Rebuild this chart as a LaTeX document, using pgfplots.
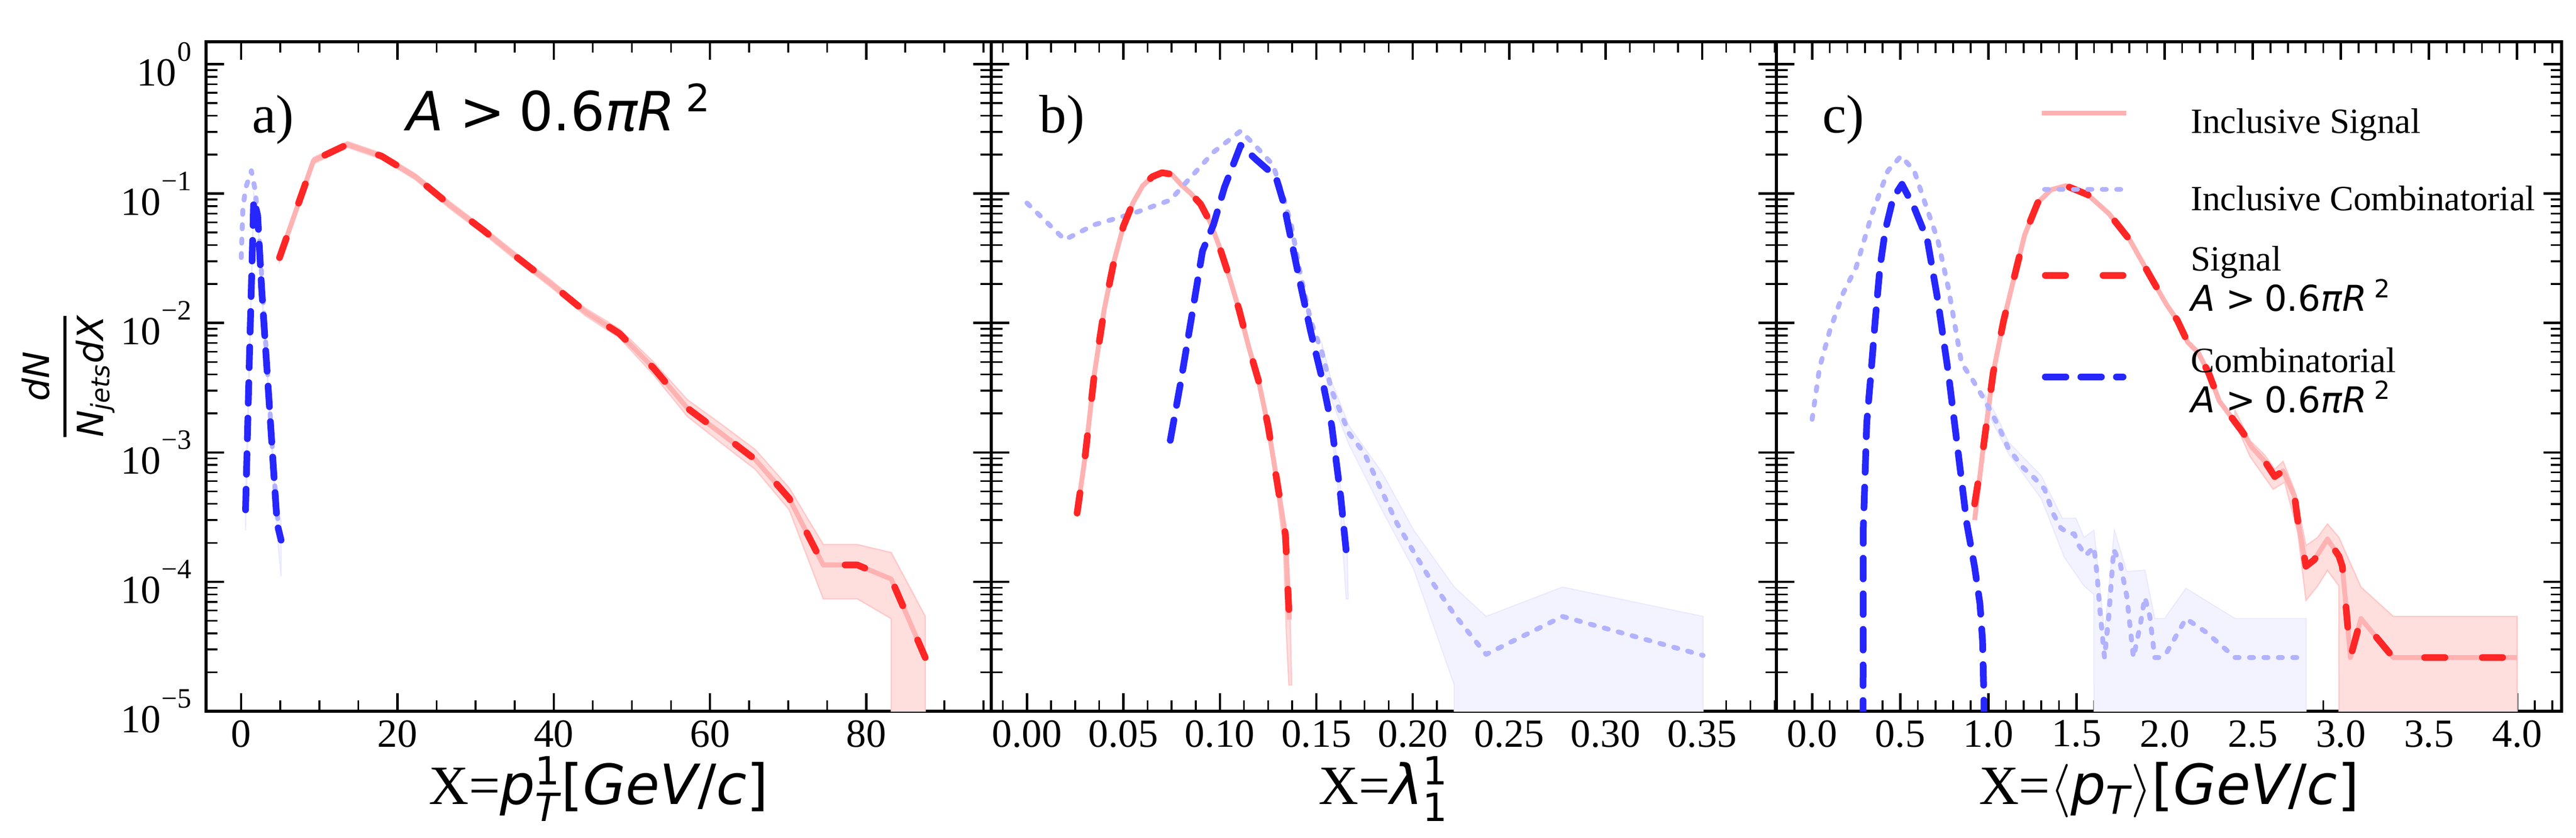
\documentclass[border=0pt]{standalone}
\usepackage{fontspec}
\setmainfont{Liberation Serif}
\newfontfamily\dv{DejaVu Sans}
\usepackage{amsmath}
\usepackage{pgfplots}
\pgfplotsset{compat=1.18}

\definecolor{pinkl}{RGB}{255,178,178}
\definecolor{lblue}{RGB}{178,178,255}
\definecolor{redd}{RGB}{255,38,38}
\definecolor{blued}{RGB}{38,38,255}
\definecolor{bandred}{RGB}{255,222,222}
\definecolor{bandredline}{RGB}{255,200,200}
\definecolor{bandblue}{RGB}{243,243,255}
\definecolor{bandblueline}{RGB}{232,232,255}

\newcommand\mi[1]{{\dv\itshape #1}}
\newcommand\mr[1]{{\dv #1}}
\newcommand\tk{\fontsize{15.5}{18}\selectfont}
\newcommand\legfont{\fontsize{13.8}{16}\selectfont}
\newcommand\pw[1]{10\kern0.3pt\raisebox{0.62em}{\fontsize{10.9}{12}\selectfont #1}}
\newcommand\Acut{\mi{A}\kern0.3em\mr{>}\kern0.25em\mr{0.6}\mi{πR}\kern0.2em\textsuperscript{\mr{2}}}

\pgfplotsset{
  every axis/.append style={
    scale only axis, width=304.8pt, height=259.8pt,
    ymode=log, ymin=1e-5, ymax=1.49,
    ytick={1e-5,1e-4,1e-3,1e-2,1e-1,1},
    minor ytick={2e-5,3e-5,4e-5,5e-5,6e-5,7e-5,8e-5,9e-5,2e-4,3e-4,4e-4,5e-4,6e-4,7e-4,8e-4,9e-4,2e-3,3e-3,4e-3,5e-3,6e-3,7e-3,8e-3,9e-3,2e-2,3e-2,4e-2,5e-2,6e-2,7e-2,8e-2,9e-2,0.2,0.3,0.4,0.5,0.6,0.7,0.8,0.9},
    xtick pos=both, ytick pos=both,
    tick align=inside,
    major tick length=7pt, minor tick length=4.3pt,
    every major tick/.append style={line width=0.9pt, black},
    every minor tick/.append style={line width=0.7pt, black},
    axis line style={line width=1.1pt},
    tick label style={font=\tk},
    yticklabel style={xshift=-2.2pt},
    clip mode=individual,
  },
  legA/.style={legend image code/.code={\draw[##1] (0pt,7.8pt) -- (32.8pt,7.8pt);}},
  legB/.style={legend image code/.code={\draw[##1] (1pt,8.2pt) -- (31.8pt,8.2pt);}},
  legC/.style={legend image code/.code={\draw[##1] (1.3pt,-1.8pt) -- (31.5pt,-1.8pt);}},
}
\tikzset{
  pinkst/.style={draw=pinkl, line width=1.9pt, line join=round},
  lbluest/.style={draw=lblue, line width=1.9pt, line cap=round, line join=round, dash pattern=on 1.6pt off 4pt},
  redst/.style={draw=redd, line width=2.6pt, line cap=round, line join=round, dash pattern=on 7.9pt off 14.5pt},
  bluest/.style={draw=blued, line width=2.6pt, line cap=round, line join=round, dash pattern=on 8pt off 5.8pt},
  rband/.style={fill=bandred, draw=bandredline, line width=0.5pt},
  bband/.style={fill=bandblue, draw=bandblueline, line width=0.4pt},
}

\begin{document}
\begin{tikzpicture}

%================ panel a ================
\begin{axis}[at={(80pt,49pt)}, anchor=south west,
  xmin=-4.5, xmax=96,
  xtick={0,20,40,60,80}, xticklabels={0,20,40,60,80},
  minor xtick={5,10,15,25,30,35,45,50,55,65,70,75,85,90,95},
  yticklabels={\pw{−5},\pw{−4},\pw{−3},\pw{−2},\pw{−1},\pw{0}},
]
\addplot[rband, forget plot] coordinates {
 (4.9,0.034) (9.25,0.19) (13.6,0.252) (17.95,0.205) (22.3,0.142) (26.65,0.087) (31,0.055)
 (35.35,0.034) (39.7,0.0213) (44.05,0.013) (48.4,0.0090) (52.75,0.0050) (57.1,0.00255)
 (61.45,0.00165) (65.8,0.00105) (70.15,0.00053) (74.5,0.000194) (78.85,0.000194)
 (83.2,0.000168) (87.55,0.000054)
 (87.55,1e-7) (83.21,1e-7) (83.2,0.000052) (78.85,0.000074) (74.5,0.000074) (70.15,0.00036)
 (65.8,0.00074) (61.45,0.00118) (57.1,0.0019) (52.75,0.0040) (48.4,0.0077) (44.05,0.0114)
 (39.7,0.0188) (35.35,0.030) (31,0.049) (26.65,0.077) (22.3,0.128) (17.95,0.185)
 (13.6,0.228) (9.25,0.17) (4.9,0.030)} -- cycle;
\addplot[bband, forget plot] coordinates {
 (0.55,0.00045) (1.05,0.0065) (1.6,0.1) (2.1,0.075) (2.6,0.021) (3.1,0.0073) (3.6,0.0026)
 (4.1,0.0009) (4.6,0.00033) (5.1,0.0003)
 (5.1,0.00011) (4.6,0.00023) (4.1,0.00068) (3.6,0.002) (3.1,0.006) (2.6,0.017) (2.1,0.062)
 (1.6,0.08) (1.05,0.0045) (0.55,0.00025)} -- cycle;
\addplot[pinkst] coordinates {
 (4.9,0.032) (9.25,0.18) (13.6,0.24) (17.95,0.195) (22.3,0.135) (26.65,0.082) (31,0.052)
 (35.35,0.032) (39.7,0.020) (44.05,0.0122) (48.4,0.0083) (52.75,0.0045) (57.1,0.0022)
 (61.45,0.0014) (65.8,0.00088) (70.15,0.00044) (74.5,0.000135) (78.85,0.000135)
 (83.2,0.000105) (87.55,0.000026)};
\addplot[lbluest] coordinates {
 (0,0.032) (0.2,0.075) (0.55,0.11) (1.3,0.15) (1.8,0.105) (2.3,0.047) (2.8,0.015)
 (3.3,0.0048) (3.8,0.0016) (4.3,0.00055) (4.8,0.00025) (5.1,0.00021)};
\addplot[redst] coordinates {
 (4.9,0.032) (9.25,0.18) (13.6,0.24) (17.95,0.195) (22.3,0.135) (26.65,0.082) (31,0.052)
 (35.35,0.032) (39.7,0.020) (44.05,0.0122) (48.4,0.0083) (52.75,0.0045) (57.1,0.0022)
 (61.45,0.0014) (65.8,0.00088) (70.15,0.00044) (74.5,0.000135) (78.85,0.000135)
 (83.2,0.000105) (87.55,0.000026)};
\addplot[bluest] coordinates {
 (0.55,0.00036) (1.05,0.0055) (1.6,0.09) (2.1,0.068) (2.6,0.019) (3.1,0.0066) (3.6,0.0023)
 (4.1,0.00079) (4.6,0.00028) (5.1,0.00021)};
\node[anchor=base west, font=\fontsize{21}{25}\selectfont] at (rel axis cs:0.047,0.864) {a)};
\node[anchor=base west, font=\fontsize{21}{25}\selectfont] at (rel axis cs:0.244,0.867) {\Acut};
\node[anchor=base, yshift=-36pt, font=\fontsize{21.5}{25}\selectfont] at (rel axis cs:0.5,0)
  {X=\mi{p}$^{\text{\mr{1}}}_{\text{\mi{T}}}$\mr{[}\mi{GeV}\mr{/}\mi{c}\mr{]}};
\node[xshift=-53.5pt, rotate=90, font=\fontsize{14}{16}\selectfont] at (rel axis cs:0,0.5)
  {$\displaystyle{\mbox{\mi{dN}}\above1.2pt\mbox{\mi{N}\textsubscript{\mi{jets}}\mi{dX}}}$};
\end{axis}

%================ panel b ================
\begin{axis}[at={(384.8pt,49pt)}, anchor=south west,
  xmin=-0.0185, xmax=0.3885,
  xtick={0,0.05,0.1,0.15,0.2,0.25,0.3,0.35},
  xticklabels={0.00,0.05,0.10,0.15,0.20,0.25,0.30,0.35},
  minor xtick={-0.0125,0.0125,0.025,0.0375,0.0625,0.075,0.0875,0.1125,0.125,0.1375,0.1625,0.175,0.1875,0.2125,0.225,0.2375,0.2625,0.275,0.2875,0.3125,0.325,0.3375,0.3625,0.375,0.3875},
  yticklabels={},
]
\addplot[bband, forget plot] coordinates {
 (0.153,0.0068) (0.158,0.0035) (0.167,0.0016) (0.184,0.0007) (0.2005,0.00025) (0.2215,0.000091)
 (0.238,0.000054) (0.2776,0.000091) (0.3505,0.000054)
 (0.3505,1e-7) (0.2216,1e-7) (0.2215,0.000016) (0.2005,0.000125) (0.184,0.00036)
 (0.167,0.00115) (0.158,0.0025) (0.153,0.005)} -- cycle;
\addplot[bband, forget plot] coordinates {
 (0.158,0.0018) (0.1626,0.00053) (0.166,0.00017) (0.1665,0.000074) (0.1655,0.000074)
 (0.1622,0.0004) (0.158,0.0014)} -- cycle;
\addplot[rband, forget plot] coordinates {
 (0.125,0.00175) (0.130,0.00062) (0.134,0.00027) (0.1362,0.00007) (0.1372,0.000016)
 (0.1358,0.000016) (0.1345,0.00004) (0.133,0.00019) (0.129,0.00056) (0.125,0.00145)} -- cycle;
\addplot[pinkst] coordinates {
 (0.026,0.00034) (0.030,0.00089) (0.035,0.0041) (0.040,0.0126) (0.045,0.0295) (0.050,0.056)
 (0.055,0.085) (0.060,0.115) (0.065,0.135) (0.070,0.145) (0.075,0.141) (0.080,0.117)
 (0.085,0.100) (0.090,0.083) (0.095,0.060) (0.100,0.038) (0.105,0.0224) (0.110,0.0126)
 (0.115,0.0065) (0.120,0.0036) (0.125,0.0016) (0.130,0.00055) (0.134,0.00023) (0.136,0.000051)};
\addplot[lbluest] coordinates {
 (0,0.0845) (0.0196,0.044) (0.035,0.0575) (0.0547,0.07) (0.0743,0.089) (0.0827,0.123)
 (0.0967,0.209) (0.1108,0.305) (0.119,0.229) (0.1276,0.166) (0.133,0.093) (0.137,0.0575)
 (0.1416,0.0245) (0.147,0.0105) (0.153,0.0059) (0.158,0.003) (0.167,0.0014) (0.175,0.00098)
 (0.184,0.0005) (0.192,0.00028) (0.2005,0.00017) (0.209,0.000105) (0.2215,0.000056)
 (0.238,0.0000275) (0.2776,0.000054) (0.3505,0.000027)};
\addplot[redst] coordinates {
 (0.026,0.00034) (0.030,0.00089) (0.035,0.0041) (0.040,0.0126) (0.045,0.0295) (0.050,0.056)
 (0.055,0.085) (0.060,0.115) (0.065,0.135) (0.070,0.145) (0.075,0.141) (0.080,0.117)
 (0.085,0.100) (0.090,0.083) (0.095,0.060) (0.100,0.038) (0.105,0.0224) (0.110,0.0126)
 (0.115,0.0065) (0.120,0.0036) (0.125,0.0016) (0.130,0.00055) (0.134,0.00023) (0.136,0.000051)};
\addplot[bluest] coordinates {
 (0.0743,0.00124) (0.080,0.0037) (0.0855,0.0115) (0.091,0.036) (0.0967,0.0575) (0.1024,0.112)
 (0.1108,0.236) (0.119,0.182) (0.129,0.135) (0.133,0.085) (0.137,0.0437) (0.1416,0.0204)
 (0.147,0.0087) (0.153,0.0037) (0.158,0.0016) (0.1626,0.00046) (0.166,0.000145)};
\node[anchor=base west, font=\fontsize{21}{25}\selectfont] at (rel axis cs:0.05,0.864) {b)};
\node[anchor=base, yshift=-36pt, font=\fontsize{21.5}{25}\selectfont] at (rel axis cs:0.5,0)
  {X=\mi{λ}$^{\text{\mr{1}}}_{\text{\mr{1}}}$};
\end{axis}

%================ panel c ================
\begin{axis}[at={(689.6pt,49pt)}, anchor=south west,
  xmin=-0.2025, xmax=4.2525,
  xtick={0,0.5,1,1.5,2,2.5,3,3.5,4},
  xticklabels={0.0,0.5,1.0,1.5,2.0,2.5,3.0,3.5,4.0},
  minor xtick={-0.1,0.1,0.2,0.3,0.4,0.6,0.7,0.8,0.9,1.1,1.2,1.3,1.4,1.6,1.7,1.8,1.9,2.1,2.2,2.3,2.4,2.6,2.7,2.8,2.9,3.1,3.2,3.3,3.4,3.6,3.7,3.8,3.9,4.1,4.2},
  yticklabels={},
  legend style={at={(rel axis cs:0.335,0.902)}, anchor=north west,
      draw=none, fill=none, inner sep=0pt, outer sep=0pt,
      row sep=0pt, column sep=24pt, font=\legfont,
      nodes={inner sep=0pt, text depth={}},
      cells={anchor=base west}},
]
\addplot[bband, forget plot] coordinates {
 (0.982,0.0028) (1.057,0.0018) (1.114,0.0012) (1.30,0.00066) (1.419,0.00031) (1.496,0.00031)
 (1.543,0.00022) (1.599,0.00025) (1.659,0.00004) (1.715,0.00025) (1.785,0.00012) (1.888,0.000123)
 (1.944,0.000052) (2.0,0.000052) (2.121,0.000089) (2.40,0.000052) (2.802,0.000052)
 (2.802,1e-7) (1.601,1e-7) (1.599,0.00008) (1.543,0.000093) (1.431,0.000155) (1.30,0.00044)
 (1.114,0.00098) (1.057,0.0014) (0.982,0.0022)} -- cycle;
\addplot[rband, forget plot] coordinates {
 (2.40,0.0021) (2.485,0.00123) (2.569,0.00095) (2.625,0.00074) (2.672,0.00085) (2.737,0.00051)
 (2.802,0.00019) (2.868,0.00022) (2.924,0.00028) (2.989,0.00022) (3.114,0.000091)
 (3.297,0.000054) (4.0,0.000054)
 (4.0,1e-7) (2.991,1e-7) (2.989,0.000093) (2.924,0.000123) (2.868,0.000093) (2.802,0.000072)
 (2.756,0.00024) (2.681,0.00059) (2.616,0.00052) (2.485,0.00093) (2.40,0.0017)} -- cycle;
\addplot[pinkst, legA] coordinates {
 (0.922,0.0003) (0.967,0.00098) (1.027,0.0041) (1.087,0.0105) (1.146,0.0224) (1.206,0.048)
 (1.28,0.085) (1.355,0.107) (1.44,0.115) (1.564,0.098) (1.684,0.07) (1.803,0.0437)
 (1.923,0.0224) (2.012,0.0138) (2.072,0.0105) (2.131,0.0071) (2.191,0.0059) (2.25,0.0041)
 (2.31,0.0025) (2.448,0.0014) (2.494,0.0011) (2.569,0.00085) (2.625,0.00065) (2.672,0.00072)
 (2.737,0.00046) (2.756,0.000295) (2.802,0.000132) (2.849,0.000148) (2.924,0.000214)
 (2.989,0.000158) (3.008,0.000132) (3.026,0.000072) (3.054,0.000026) (3.114,0.000052)
 (3.297,0.000026) (4.0,0.000026)};
\addlegendentry{\raisebox{0pt}[10pt][20pt]{Inclusive Signal}}
\addplot[lbluest, legB] coordinates {
 (0,0.0018) (0.042,0.0045) (0.1,0.0087) (0.176,0.017) (0.25,0.027) (0.34,0.07) (0.43,0.15)
 (0.5045,0.195) (0.579,0.15) (0.64,0.085) (0.713,0.0437) (0.773,0.0186) (0.848,0.0049)
 (0.907,0.0037) (0.982,0.0025) (1.057,0.0016) (1.114,0.00107) (1.198,0.00076) (1.263,0.00063)
 (1.319,0.00052) (1.366,0.00034) (1.412,0.00026) (1.459,0.000235) (1.487,0.000235)
 (1.515,0.00019) (1.552,0.00016) (1.599,0.000186) (1.617,0.000112) (1.636,0.000054)
 (1.659,0.000026) (1.683,0.000054) (1.711,0.000178) (1.748,0.000138) (1.785,0.000078)
 (1.823,0.000026) (1.86,0.000045) (1.888,0.000076) (1.916,0.000054) (1.944,0.000026)
 (1.972,0.000026) (2.009,0.000028) (2.121,0.000052) (2.233,0.000041) (2.40,0.000026)
 (2.802,0.000026)};
\addlegendentry{\raisebox{0pt}[10pt][13.4pt]{Inclusive Combinatorial}}
\addplot[redst, legC] coordinates {
 (0.922,0.0004) (0.967,0.00098) (1.027,0.0041) (1.087,0.0105) (1.146,0.0224) (1.206,0.048)
 (1.28,0.085) (1.355,0.107) (1.44,0.115) (1.564,0.098) (1.684,0.07) (1.803,0.0437)
 (1.923,0.0224) (2.012,0.0138) (2.072,0.0105) (2.131,0.0071) (2.191,0.0059) (2.25,0.0041)
 (2.31,0.0025) (2.448,0.0014) (2.494,0.0011) (2.569,0.00085) (2.625,0.00065) (2.672,0.00072)
 (2.737,0.00046) (2.756,0.000295) (2.802,0.000132) (2.849,0.000148) (2.924,0.000214)
 (2.989,0.000158) (3.008,0.000132) (3.026,0.000072) (3.054,0.000026) (3.114,0.000052)
 (3.297,0.000026) (4.0,0.000026)};
\addlegendentry{\raisebox{0pt}[10pt][29.4pt]{\vtop{\baselineskip=15.6pt\lineskiplimit=-50pt\hbox{Signal}\hbox{\Acut}}}}
\addplot[bluest, legC] coordinates {
 (0.2875,1e-7) (0.29,0.00025) (0.31,0.0017) (0.334,0.0041) (0.358,0.0105) (0.385,0.027)
 (0.415,0.052) (0.46,0.093) (0.51,0.118) (0.579,0.078) (0.654,0.0437) (0.713,0.015)
 (0.773,0.0041) (0.833,0.00089) (0.878,0.00028) (0.922,0.00013) (0.952,0.000068)
 (0.967,0.000035) (0.975,0.000012) (0.976,1e-7)};
\addlegendentry{\raisebox{0pt}[10pt][20pt]{\vtop{\baselineskip=15.6pt\lineskiplimit=-50pt\hbox{Combinatorial}\hbox{\Acut}}}}
\node[anchor=base west, font=\fontsize{21}{25}\selectfont] at (rel axis cs:0.047,0.864) {c)};
\node[anchor=base, yshift=-36pt, font=\fontsize{21.5}{25}\selectfont] at (rel axis cs:0.5,0)
  {X=$\langle$\mi{p}\textsubscript{\mi{T}}$\rangle$\mr{[}\mi{GeV}\mr{/}\mi{c}\mr{]}};
\end{axis}

\pgfresetboundingbox
\path[use as bounding box] (0,0) rectangle (1000pt,325pt);
\end{tikzpicture}
\end{document}
